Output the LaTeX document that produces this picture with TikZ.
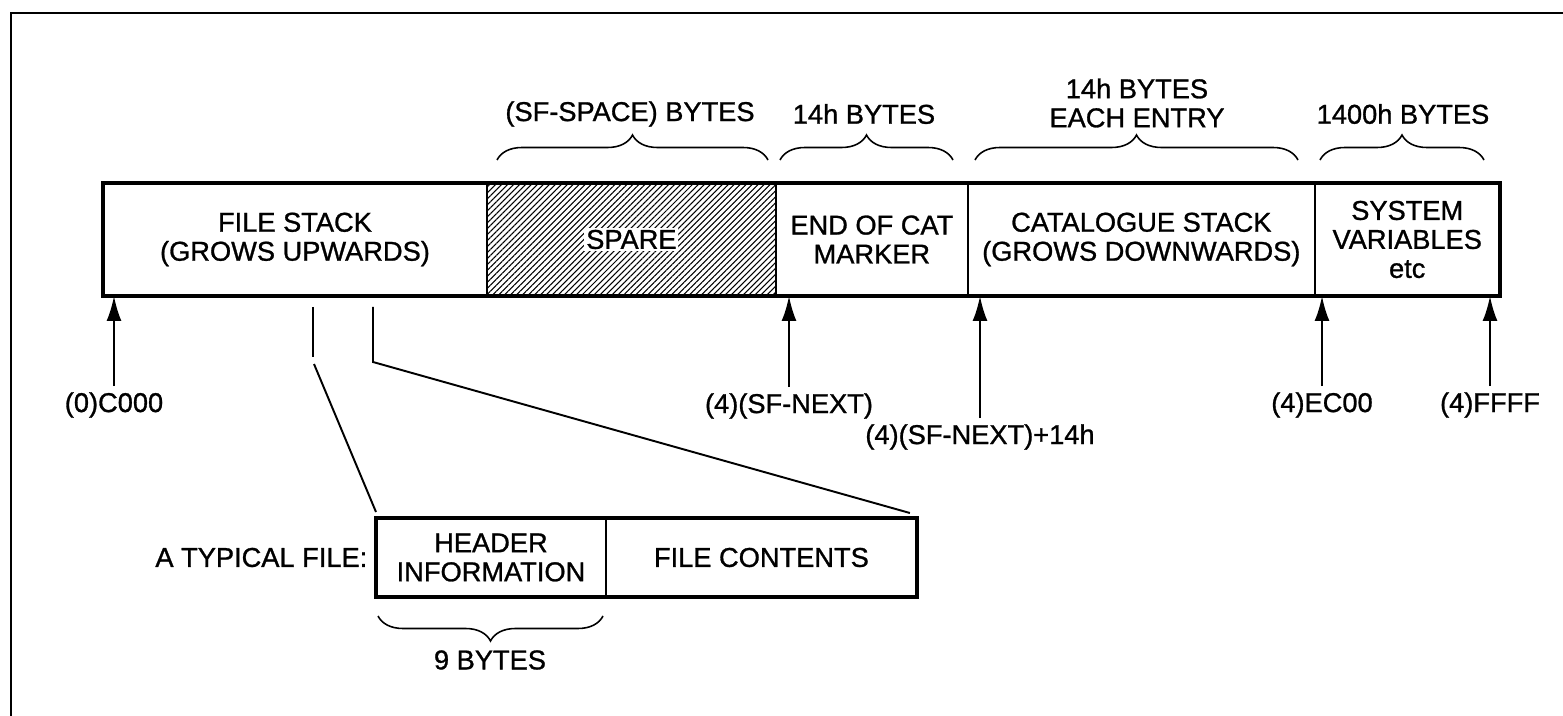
\documentclass[tikz,border=0pt]{standalone}
\usepackage{fontspec}
\setmainfont{Liberation Sans}[FakeBold=1]
\usetikzlibrary{positioning,arrows.meta,decorations.pathreplacing,patterns.meta}

\begin{document}
\begin{tikzpicture}[x=0.02cm,y=-0.02cm,
        every node/.style={font=\fontsize{15.5}{16.5}\selectfont},
        seg/.style={draw,line width=1pt,minimum height=2.26cm,inner sep=2pt,align=center,outer sep=0pt},
        hatch/.style={pattern={Lines[angle=45,distance=2.4pt,line width=0.6pt]}},
        ptr/.style={line width=1.3pt,-{Latex[length=0.5cm,width=0.3cm]}},
        brc/.style={decorate,decoration={brace,amplitude=0.5cm},line width=0.9pt},
        lnk/.style={line width=1.1pt},
        node distance=0pt]
        \path[fill=white,use as bounding box] (0,0) rectangle (1563,716);
        \draw[line width=1.6pt] (11,716) -- (11,13) -- (1563,13);
        % memory map
        \node[seg,minimum width=7.68cm,anchor=north west] (file) at (103,183) {FILE STACK\\(GROWS UPWARDS)};
        \node[seg,hatch,minimum width=5.78cm,right=of file] (spare) {};
        \node[fill=white,inner sep=1pt] (sparetxt) at (spare) {SPARE};
        \node[seg,minimum width=3.84cm,right=of spare] (endcat) {END OF CAT\\MARKER};
        \node[seg,minimum width=6.94cm,right=of endcat] (cat) {CATALOGUE STACK\\(GROWS DOWNWARDS)};
        \node[seg,minimum width=3.70cm,right=of cat] (sysvar) {SYSTEM\\VARIABLES\\etc};
        \draw[line width=2.2pt] (file.north west) rectangle (sysvar.south east);
        % sizes
        \draw[brc] (497,160) -- (768,160);
        \draw[brc] (780,160) -- (953,160);
        \draw[brc] (975,160) -- (1298,160);
        \draw[brc] (1320,160) -- (1484,160);
        \node (sfbytes) at (630,114) {(SF-SPACE) BYTES};
        \node (catbytes) at (864,114) {14h BYTES};
        \node[align=center] (entbytes) at (1137,103) {14h BYTES\\EACH ENTRY};
        \node (sysbytes) at (1403,114) {1400h BYTES};
        % addresses
        \node (c000) at (114,405) {(0)C000};
        \node (sfnext) at (789,406) {(4)(SF-NEXT)};
        \node (sfnext14) at (980,437) {(4)(SF-NEXT)+14h};
        \node (ec00) at (1322,405) {(4)EC00};
        \node (ffff) at (1490,405) {(4)FFFF};
        \draw[ptr] (c000.north) -- (c000.north |- file.south);
        \draw[ptr] (sfnext.north) -- (sfnext.north |- endcat.south);
        \draw[ptr] (sfnext14.north) -- (sfnext14.north |- cat.south);
        \draw[ptr] (ec00.north) -- (ec00.north |- sysvar.south);
        \draw[ptr] (ffff.north) -- (ffff.north |- sysvar.south);
        % typical file
        \node[seg,minimum width=4.6cm,minimum height=1.58cm,anchor=north west] (header) at (376,518) {HEADER\\INFORMATION};
        \node[seg,minimum width=6.22cm,minimum height=1.58cm,right=of header] (contents) {FILE CONTENTS};
        \draw[line width=2.2pt] (header.north west) rectangle (contents.south east);
        \node[left=0.05cm of header] (typical) {A TYPICAL FILE:};
        \draw[brc] (603,616) -- (378,616);
        \node (hdrbytes) at (490,660) {9 BYTES};
        \coordinate (tka) at (313,307);
        \coordinate (tkb) at (313,357);
        \coordinate (tkc) at (314,364);
        \coordinate (tkd) at (373,307);
        \coordinate (tke) at (373,362);
        \draw[lnk] (tka) -- (tkb);
        \draw[lnk] (tkc) -- ([yshift=0.12cm]header.north west);
        \draw[lnk] (tkd) -- (tke) -- ([xshift=-0.14cm,yshift=0.1cm]contents.north east);
\end{tikzpicture}
\end{document}
